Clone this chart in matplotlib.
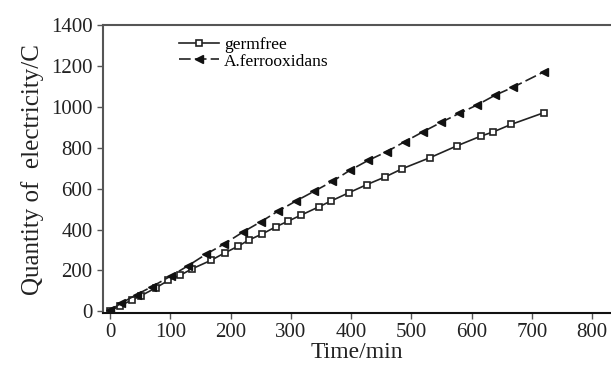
import matplotlib.pyplot as plt

# values
t_germfree = [0, 17, 36, 51, 76, 97, 116, 136, 167, 191, 212, 231, 252, 276, 296, 317,
              347, 366, 396, 426, 456, 485, 531, 575, 615, 636, 665, 720]
q_germfree = [2, 28, 55, 76, 115, 152, 176, 208, 249, 287, 318, 350, 378, 415, 442, 471,
              512, 539, 580, 620, 657, 698, 752, 809, 857, 878, 914, 972]

t_ferro = [0, 18, 44, 69, 101, 130, 160, 189, 221, 250, 278, 308, 339, 369, 398, 428,
           459, 489, 519, 549, 579, 608, 638, 669, 720]
q_ferro = [5, 39, 82, 120, 173, 224, 281, 329, 389, 438, 489, 539, 588, 636, 690, 738,
           781, 830, 878, 924, 968, 1008, 1056, 1097, 1172]

x_ticks = [0, 100, 200, 300, 400, 500, 600, 700, 800]
y_ticks = [0, 200, 400, 600, 800, 1000, 1200, 1400]

plt.rcParams["font.family"] = ["Liberation Serif", "DejaVu Serif"]

fig = plt.figure(figsize=(6.11, 3.71), dpi=100)
ax = fig.add_axes([0.1686, 0.1563, 0.8314, 0.776])

ax.plot(t_germfree, q_germfree, color="#222222", lw=1.2, marker="s", ms=5,
        mfc="white", mec="#222222", mew=1.2, label="germfree")
ax.plot(t_ferro, q_ferro, color="#222222", lw=1.2, ls=(0, (7, 2.5)), marker="<", ms=6,
        mfc="#111111", mec="#111111", label="A.ferrooxidans")

ax.set_xlim(-11.6, 831)
ax.set_ylim(-8, 1400)
ax.set_xticks(x_ticks)
ax.set_yticks(y_ticks)
ax.tick_params(labelsize=15, direction="out", length=4, color="#555555", width=1,
               labelcolor="#222222")

for side in ["left", "bottom", "top"]:
    ax.spines[side].set_linewidth(1.5)
ax.spines["left"].set_color("#555555")
ax.spines["top"].set_color("#555555")
ax.spines["bottom"].set_color("#111111")
ax.spines["right"].set_visible(False)

ax.set_xlabel("Time/min", fontsize=17, labelpad=0, color="#222222")
ax.set_ylabel("Quantity of  electricity/C", fontsize=18, labelpad=5, color="#222222")

ax.legend(loc="upper left", bbox_to_anchor=(0.125, 1.0), frameon=False, fontsize=12.5,
          handlelength=2.3, handletextpad=0.3, labelspacing=0.0, borderaxespad=0.3)

fig.savefig("out.png", dpi=100)
